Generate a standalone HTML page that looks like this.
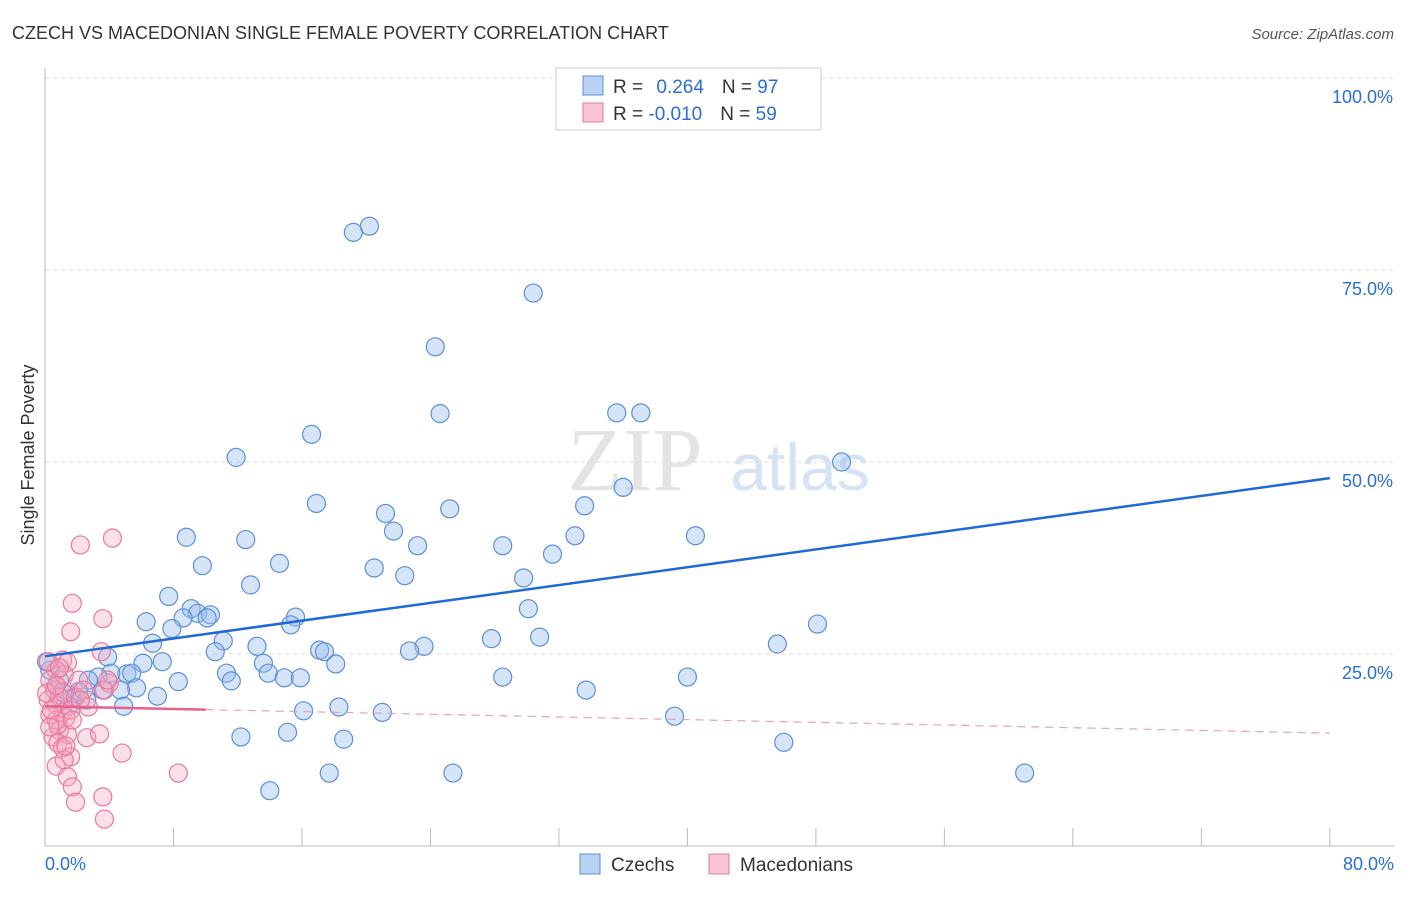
<!DOCTYPE html>
<html><head><meta charset="utf-8"><style>
body{margin:0;background:#fff;font-family:"Liberation Sans",sans-serif;}
</style></head><body>
<svg width="1406" height="892" xmlns="http://www.w3.org/2000/svg" style="font-family:'Liberation Sans',sans-serif">
<text x="12" y="39" font-size="18" fill="#333">CZECH VS MACEDONIAN SINGLE FEMALE POVERTY CORRELATION CHART</text>
<text x="1394" y="39" font-size="15" fill="#555" font-style="italic" text-anchor="end">Source: ZipAtlas.com</text>
<text x="635" y="490" font-size="90" fill="#e4e4e4" font-family="Liberation Serif" text-anchor="middle">ZIP</text>
<text x="800" y="490" font-size="66" fill="#d6e3f5" text-anchor="middle">atlas</text>
<text transform="translate(34,455) rotate(-90)" font-size="18" fill="#333" text-anchor="middle">Single Female Poverty</text>
<g id="grid"></g><g id="axes"></g><g id="pts"></g><g id="lines"></g>
<g>
<rect x="556" y="68" width="265" height="62" fill="#fff" stroke="#ccc"/>
<rect x="583" y="76" width="20" height="19" fill="#b9d2f3" stroke="#5b8fd9"/>
<rect x="583" y="103" width="20" height="19" fill="#f9c4d3" stroke="#e8789d"/>
<text x="613" y="93" font-size="19" fill="#333">R = <tspan fill="#2a6fd6" dx="8">0.264</tspan><tspan dx="18" fill="#333">N = </tspan><tspan fill="#2a6fd6">97</tspan></text>
<text x="613" y="120" font-size="19" fill="#333">R = <tspan fill="#2a6fd6">-0.010</tspan><tspan dx="18" fill="#333">N = </tspan><tspan fill="#2a6fd6">59</tspan></text>
</g>
<g>
<rect x="580" y="854" width="20" height="20" fill="#b9d2f3" stroke="#5b8fd9"/>
<text x="611" y="871" font-size="19" fill="#333">Czechs</text>
<rect x="709" y="854" width="20" height="20" fill="#f9c4d3" stroke="#e8789d"/>
<text x="740" y="871" font-size="19" fill="#333">Macedonians</text>
</g>
</svg>
<script>
const blueX=[20.2,19.2,30.4,24.3,24.6,35.6,37.1,16.6,11.9,49.6,36.0,16.9,25.2,33.6,21.2,21.7,33.0,40.5,8.8,12.5,23.2,28.5,31.6,14.6,9.8,20.5,22.4,29.8,12.8,7.7,30.1,9.1,9.5,10.3,8.6,10.1,15.6,6.3,15.3,48.1,7.9,30.8,27.8,6.7,11.1,45.6,13.2,23.6,17.1,17.4,22.7,10.6,3.9,7.3,6.1,13.6,18.1,11.3,5.1,5.4,4.1,3.3,13.9,11.6,14.9,15.9,28.5,40.0,8.3,2.7,5.7,4.7,3.6,2.1,33.7,7.0,1.7,1.2,4.9,16.1,18.3,21.0,39.2,15.1,12.2,18.6,46.0,17.7,25.4,61.0,14.0,0.3,0.6,0.9,0.1,1.5,2.6];
const blueY=[80.7,79.9,72.0,65.0,56.3,56.4,56.4,53.6,50.6,50.0,46.7,44.6,43.9,44.3,43.3,41.0,40.4,40.4,40.2,39.9,39.1,39.1,38.0,36.8,36.5,36.2,35.2,34.9,34.0,32.5,30.9,30.9,30.3,30.1,29.7,29.7,29.8,29.2,28.8,28.9,28.3,27.2,27.0,26.4,26.7,26.3,26.0,26.0,25.5,25.3,25.4,25.3,24.6,24.0,23.8,23.8,23.7,22.5,22.4,22.5,22.5,22.0,22.5,21.5,21.9,21.9,22.0,22.0,21.4,21.6,20.6,20.3,20.3,20.1,20.3,19.5,19.3,19.8,18.2,17.6,18.1,17.4,16.9,14.8,14.2,13.9,13.5,9.5,9.5,9.5,7.2,22.9,20.3,21.6,24.0,18.2,19.0];
const pinkX=[2.2,4.2,1.7,3.6,1.6,3.5,1.1,1.4,0.7,1.2,2.1,4.0,0.3,0.6,1.1,0.2,0.7,2.7,1.1,0.3,1.3,0.7,0.9,0.5,1.4,2.6,3.4,0.8,1.1,4.8,1.6,0.7,1.2,1.4,8.3,1.7,3.6,1.9,3.7,0.9,1.9,2.4,0.1,0.4,1.6,0.8,1.3,3.7,1.7,0.3,0.2,0.9,3.9,2.2,0.7];
const pinkY=[39.2,40.1,31.6,29.6,27.9,25.3,24.2,23.9,22.9,22.3,21.6,21.2,21.6,20.3,20.1,19.0,18.4,18.1,17.4,17.1,16.7,16.4,15.1,14.2,14.5,14.1,14.6,13.4,12.8,12.1,11.6,10.4,11.2,9.0,9.5,7.7,6.4,5.7,3.5,19.4,19.4,20.3,19.9,17.7,17.7,15.8,13.0,20.3,16.4,15.5,24.0,23.2,21.6,19.0,20.9];
const blueTrend=[24.7,47.9];
const pinkTrend=[18.2,14.7];
const yTicks=[25,50,75,100];
const xTicks=[0,8,16,24,32,40,48,56,64,72,80];
const NS="http://www.w3.org/2000/svg";
const sx=v=>45+v*16.06, sy=v=>846-v*7.68;
function mk(tag,attrs,parent){const e=document.createElementNS(NS,tag);for(const k in attrs)e.setAttribute(k,attrs[k]);document.getElementById(parent).appendChild(e);return e;}
yTicks.forEach(t=>{
 const l=mk('line',{x1:45,x2:1394,y1:sy(t),y2:sy(t),stroke:'#ddd','stroke-dasharray':'4,4'},'grid');
 
 
 const tx=mk('text',{x:1393,y:sy(t)+25,'font-size':18,fill:'#2a6fd6','text-anchor':'end'},'grid');
 tx.textContent=t.toFixed(1)+'%';
 
 
});
const ax=mk('line',{x1:45,x2:45,y1:68,y2:846,stroke:'#bbb'},'axes');


const bx=mk('line',{x1:45,x2:1394,y1:846,y2:846,stroke:'#bbb'},'axes');


xTicks.forEach(t=>{
 const l=mk('line',{x1:sx(t),x2:sx(t),y1:828,y2:846,stroke:'#bbb'},'axes');
 
 
});
[[0,'start'],[80,'end']].forEach(([t,a])=>{
 const tx=mk('text',{x:t==0?45:1394,y:870,'font-size':18,fill:'#2a6fd6','text-anchor':a},'axes');
 tx.textContent=t.toFixed(1)+'%';
 
 
});
blueX.forEach((x,i)=>{
 const c=mk('circle',{cx:sx(x),cy:sy(blueY[i]),r:9,fill:'rgba(150,188,236,0.4)',stroke:'#5b8fd9','stroke-width':1.2},'pts');
 
 
});
pinkX.forEach((x,i)=>{
 const c=mk('circle',{cx:sx(x),cy:sy(pinkY[i]),r:9,fill:'rgba(245,165,190,0.35)',stroke:'#e8789d','stroke-width':1.2},'pts');
 
 
});
const bl=mk('line',{x1:sx(0),y1:sy(blueTrend[0]),x2:sx(80),y2:sy(blueTrend[1]),stroke:'#1f6ad4','stroke-width':2.5},'lines');


const pAt=v=>pinkTrend[0]+(pinkTrend[1]-pinkTrend[0])*v/80;
const ps=mk('line',{x1:sx(0),y1:sy(pAt(0)),x2:sx(10),y2:sy(pAt(10)),stroke:'#e8608a','stroke-width':2.5},'lines');


const pd=mk('line',{x1:sx(10),y1:sy(pAt(10)),x2:sx(80),y2:sy(pAt(80)),stroke:'#e8a0b6','stroke-width':1.2,'stroke-dasharray':'8,6'},'lines');


</script>
</body></html>
